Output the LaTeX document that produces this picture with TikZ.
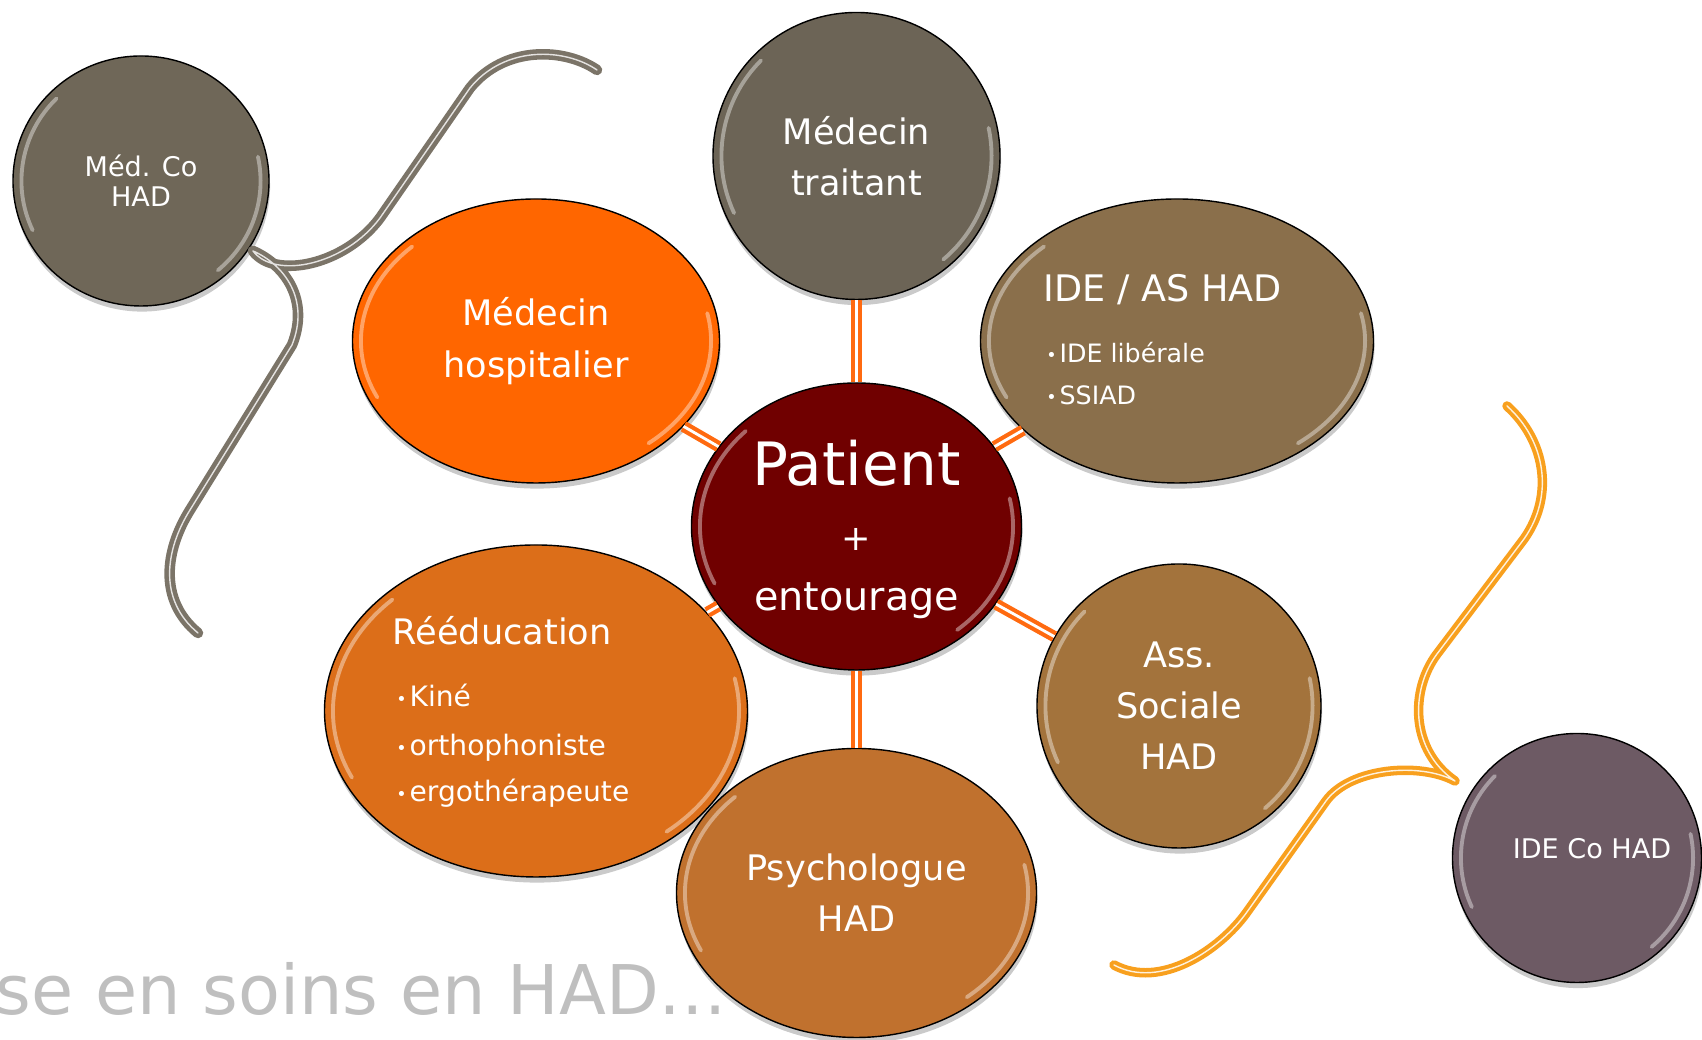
\documentclass[tikz,border=0pt]{standalone}
\usepackage{fontspec}
\setmainfont{DejaVu Sans}
\usepackage{tikz}
\usetikzlibrary{shapes}
\usetikzlibrary{positioning}
\usetikzlibrary{shadows}
\usetikzlibrary{calc}
\definecolor{cmedco}{HTML}{6F6758}
\definecolor{cmedtrait}{HTML}{6C6456}
\definecolor{cmedhosp}{HTML}{FF6600}
\definecolor{cideas}{HTML}{8A6F4B}
\definecolor{cpatient}{HTML}{700000}
\definecolor{creeduc}{HTML}{DC6E19}
\definecolor{casssoc}{HTML}{A3733C}
\definecolor{cpsycho}{HTML}{C0712E}
\definecolor{cideco}{HTML}{6D5A64}
\definecolor{clien}{HTML}{FF6A10}
\definecolor{cbrgris}{HTML}{7B7468}
\definecolor{cbrorange}{HTML}{F8A01E}
\definecolor{ctitre}{HTML}{BFBFBF}
\newcommand{\bul}{\makebox[3.8pt][l]{\raisebox{0.3pt}{\fontsize{5}{5}\selectfont •}}}
\tikzset{
    bevel/.style = {path picture={
        \draw[white,opacity=.4,line width=1.1pt,line cap=round]
          let \p1 = ($(path picture bounding box.north east)-(path picture bounding box.center)$),
              \n1 = {\x1-2.4pt}, \n2 = {\y1-2.4pt} in
          ($(path picture bounding box.center)+(135:\n1 and \n2)$)
            arc[start angle=135, end angle=205, x radius=\n1, y radius=\n2]
          ($(path picture bounding box.center)+(-50:\n1 and \n2)$)
            arc[start angle=-50, end angle=12, x radius=\n1, y radius=\n2];}},
    bubble/.style = {ellipse, thin, draw=black, inner sep=0pt, align=center, text=white,
                     drop shadow={shadow xshift=0.3pt, shadow yshift=-1.6pt, fill=black!60, opacity=.35}, bevel},
    bubtxt/.style = {text=white, inner sep=0pt, anchor=base west},
    edgeo/.style = {draw=clien, line width=1.2pt, double=white, double distance=0.8pt}, % lien patient
    braceg/.style = {draw=cbrgris, line width=1.3pt, double=white!80!cbrgris, double distance=0.4pt, line cap=round, line join=round},
    braceo/.style = {draw=cbrorange, line width=1.15pt, double=white!85!cbrorange, double distance=0.4pt, line cap=round, line join=round}
}

\begin{document}
\begin{tikzpicture}[font=\fontsize{10}{14.5}\selectfont]
  \useasboundingbox (0,0) rectangle (17.02,10.40);

  \node[bubble, fill=cmedco, minimum width=2.56cm, minimum height=2.50cm, font=\fontsize{7.7}{8.6}\selectfont] at (1.41,8.59) (medco) {Méd. Co\\HAD};
  \node[bubble, fill=cmedtrait, minimum width=2.87cm, minimum height=2.87cm] at (8.565,8.84) (medtrait) {Médecin\\traitant};
  \node[bubble, fill=cmedhosp, minimum width=3.67cm, minimum height=2.84cm, font=\fontsize{10}{14.8}\selectfont] at (5.36,6.99) (medhosp) {Médecin\\hospitalier};
  \node[bubble, fill=cideas, minimum width=3.93cm, minimum height=2.84cm] at (11.77,6.99) (ideas) {};
  \node[bubble, fill=cpatient, minimum width=3.30cm, minimum height=2.87cm] at (8.565,5.135) (patient) {};
  \node[bubble, fill=creeduc, minimum width=4.23cm, minimum height=3.32cm] at (5.36,3.29) (reeduc) {};
  \node[bubble, fill=casssoc, minimum width=2.84cm, minimum height=2.84cm] at (11.79,3.34) (asssoc) {Ass.\\Sociale\\HAD};
  \node[bubble, fill=cpsycho, minimum width=3.60cm, minimum height=2.89cm] at (8.565,1.47) (psycho) {Psychologue\\HAD};
  \node[bubble, fill=cideco, minimum width=2.49cm, minimum height=2.49cm] at (15.77,1.82) (ideco) {};

  % textes
  \node[text=white, inner sep=0pt, anchor=base, font=\fontsize{17}{17}\selectfont] at (8.565,5.54) (pat1) {Patient};
  \node[text=white, inner sep=0pt, font=\fontsize{10}{10}\selectfont] at (8.565,5.00) (pat2) {+};
  \node[text=white, inner sep=0pt, anchor=base, font=\fontsize{11.3}{11.3}\selectfont] at (8.565,4.29) (pat3) {entourage};

  \node[bubtxt, font=\fontsize{10.4}{10.4}\selectfont] at (10.43,7.38) (ideas0) {IDE / AS HAD};
  \node[bubtxt, font=\fontsize{7.2}{7.2}\selectfont] at (10.456,6.77) (ideas1) {\bul IDE libérale};
  \node[bubtxt, font=\fontsize{7.2}{7.2}\selectfont] at (10.456,6.35) (ideas2) {\bul SSIAD};

  \node[bubtxt] at (3.92,3.95) (reeduc0) {Rééducation};
  \node[bubtxt, font=\fontsize{8}{8}\selectfont] at (3.956,3.33) (reeduc1) {\bul Kiné};
  \node[bubtxt, font=\fontsize{8}{8}\selectfont] at (3.956,2.84) (reeduc2) {\bul orthophoniste};
  \node[bubtxt, font=\fontsize{8}{8}\selectfont] at (3.956,2.38) (reeduc3) {\bul ergothérapeute};

  \node[text=white, inner sep=0pt, font=\fontsize{7.7}{7.7}\selectfont] at (15.92,1.91) (idecotxt) {IDE Co HAD};

  \node[anchor=base west, inner sep=0pt, text=ctitre, font=\fontsize{19.5}{19.5}\selectfont] at (-0.05,0.25) (titre) {se en soins en HAD…};

  \foreach \n in {medtrait,medhosp,ideas,reeduc,asssoc,psycho}
    \draw[edgeo] (patient) -- (\n);

  % accolades
  \coordinate (gtop) at (5.97,9.70);
  \coordinate (gtip) at (2.53,7.89);
  \coordinate (gbot) at (1.98,4.07);
  \draw[braceg] (gtop) .. controls (5.65,9.92) and (5.05,9.95) .. (4.70,9.52) -- (3.80,8.22)
    .. controls (3.45,7.75) and (2.75,7.60) .. (gtip)
    .. controls (2.85,7.75) and (3.10,7.40) .. (2.92,6.95) -- (1.90,5.30)
    .. controls (1.65,4.90) and (1.58,4.40) .. (gbot);

  \coordinate (otop) at (15.07,6.34);
  \coordinate (otip) at (14.55,2.59);
  \coordinate (obot) at (11.14,0.75);
  \draw[braceo] (otop) .. controls (15.45,6.00) and (15.55,5.45) .. (15.24,5.01) -- (14.37,3.86)
    .. controls (14.10,3.50) and (14.10,2.90) .. (otip)
    .. controls (14.20,2.78) and (13.50,2.72) .. (13.26,2.39) -- (12.47,1.28)
    .. controls (12.20,0.90) and (11.60,0.50) .. (obot);
\end{tikzpicture}
\end{document}
